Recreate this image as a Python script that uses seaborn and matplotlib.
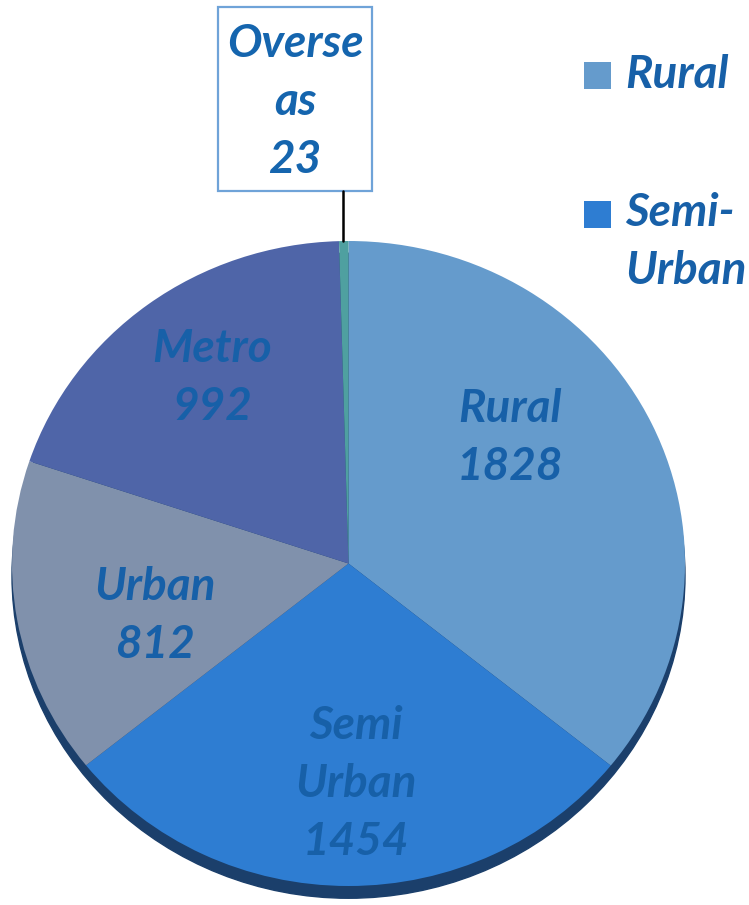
import matplotlib
matplotlib.use("Agg")
import matplotlib.pyplot as plt
import seaborn as sns
from matplotlib.patches import Ellipse, Rectangle
from matplotlib.lines import Line2D

# data
categories = ["Rural", "Semi Urban", "Urban", "Metro", "Overseas"]
values = [1828, 1454, 812, 992, 23]
slice_colors = ["#659bcc", "#2e7dd2", "#8091ac", "#4f65a8", "#4fa0a0"]
legend_labels = ["Rural", "Semi-\nUrban"]

sns.set_theme(style="white")
plt.rcParams['font.family'] = ['Lato', 'DejaVu Sans']

W, H = 749, 905
fig = plt.figure(figsize=(W / 100, H / 100), dpi=100)


def fx(x):
    return x / W


def fy(y):
    return 1 - y / H


text_color = "#1760a8"
fs = 33
lsp = 1.48

# pie drawn as a slightly flattened ellipse
ax = fig.add_axes([fx(12), fy(886), (685 - 12) / W, (886 - 241) / H])
wedges, _ = ax.pie(values, colors=slice_colors, startangle=90, counterclock=False,
                   radius=1, wedgeprops=dict(linewidth=0, antialiased=True))
for w in wedges:
    w.set_clip_on(False)
ax.set_xlim(-1, 1)
ax.set_ylim(-1, 1)
ax.set_aspect('auto')
ax.axis('off')

# 3D-ish shadow under the pie
ax.add_patch(Ellipse((0, -0.038), 2, 2, color="#1b3f6b", zorder=0, clip_on=False))

# slice labels
label_pos = {
    "Rural": (510, 438),
    "Semi Urban": (356, 784),
    "Urban": (155, 616),
    "Metro": (212, 378),
}
for cat, val in zip(categories, values):
    if cat not in label_pos:
        continue
    name = cat.replace(" ", "\n")
    x, y = label_pos[cat]
    fig.text(fx(x), fy(y), f"{name}\n{val}", ha="center", va="center",
             multialignment="center", fontsize=fs, fontweight="bold",
             fontstyle="italic", color=text_color, linespacing=lsp)

# Overseas call-out box
fig.patches.append(Rectangle((fx(218), fy(191)), (372 - 218) / W, (191 - 7) / H,
                             transform=fig.transFigure, facecolor="white",
                             edgecolor="#6fa3d8", linewidth=1.6))
fig.lines.append(Line2D([fx(343), fx(343)], [fy(191), fy(241)],
                        transform=fig.transFigure, color="black", linewidth=1.8))
fig.text(fx(295), fy(102), f"Overse\nas\n{values[4]}", ha="center", va="center",
         multialignment="center", fontsize=fs, fontweight="bold",
         fontstyle="italic", color="#1565ae", linespacing=lsp)

# legend (clipped at the right edge like the original)
leg_y = [76, 214]
for lab, col, y in zip(legend_labels, slice_colors[:2], leg_y):
    fig.patches.append(Rectangle((fx(584), fy(y + 13.5)), 27 / W, 27 / H,
                                 transform=fig.transFigure, facecolor=col,
                                 edgecolor="none"))
    fig.text(fx(625), fy(y - 22), lab, ha="left", va="top",
             fontsize=fs, fontweight="bold", fontstyle="italic",
             color=text_color, linespacing=lsp)

fig.savefig("out.png", dpi=100)
